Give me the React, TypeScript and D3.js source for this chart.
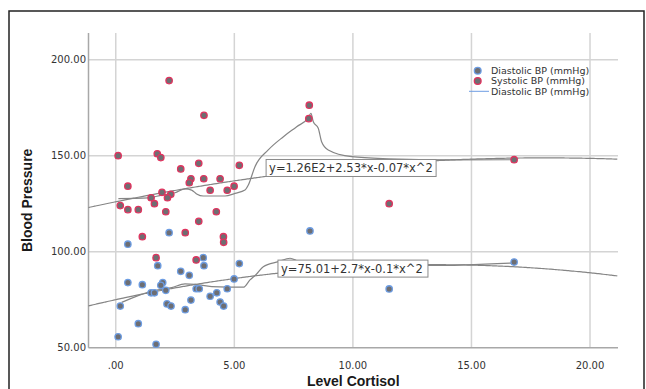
import * as d3 from "d3";
import React from "react";

// scatter values: [cortisol, blood pressure]
const systolic: [number, number][] = [
  [2.25, 189.1], [3.72, 171.0], [0.10, 150.0], [1.75, 151.0], [1.90, 149.0],
  [2.74, 143.1], [3.50, 146.0], [5.21, 145.0], [0.51, 134.1], [3.17, 138.0],
  [3.10, 135.9], [3.71, 138.0], [4.40, 138.0], [4.99, 134.1], [1.95, 130.9],
  [2.32, 129.9], [1.49, 128.1], [2.18, 128.1], [3.98, 132.0], [4.70, 132.0],
  [1.63, 125.0], [0.19, 124.0], [0.51, 121.9], [0.95, 121.9], [2.11, 120.8],
  [4.24, 120.8], [3.50, 115.8], [1.12, 107.8], [2.93, 109.9], [4.54, 107.8],
  [4.55, 104.9], [1.70, 96.9], [3.39, 95.7], [8.16, 176.3], [8.14, 169.3],
  [11.53, 125.0], [16.80, 147.9],
];

const diastolic: [number, number][] = [
  [2.25, 109.9], [0.51, 103.9], [3.69, 96.9], [1.77, 92.7], [3.72, 92.7],
  [5.21, 93.8], [2.74, 89.8], [3.10, 87.7], [0.51, 83.9], [1.12, 82.8],
  [1.98, 83.9], [1.90, 82.5], [4.99, 85.8], [3.39, 80.7], [3.52, 80.7],
  [1.49, 78.6], [1.63, 78.6], [2.11, 79.9], [4.70, 80.7], [4.26, 78.6],
  [3.98, 76.8], [3.17, 74.8], [4.40, 73.8], [0.19, 71.7], [2.16, 72.8],
  [2.33, 71.7], [2.93, 69.8], [4.55, 71.7], [0.95, 62.5], [0.10, 55.7],
  [1.70, 51.8], [8.19, 110.8], [11.53, 80.6], [16.80, 94.6],
];

// loess-like smoothers
const systolicLoess: [number, number][] = [
  [0.11, 127.6], [1.37, 128.0], [1.94, 129.5], [2.5, 130.7], [2.92, 132.7],
  [3.2, 132.1], [3.41, 130.1], [3.69, 129.0], [4.61, 129.0], [5.03, 130.4],
  [5.45, 132.1], [5.59, 134.7], [5.87, 144.3], [6.43, 153.0], [7.07, 159.9],
  [7.63, 165.1], [8.12, 169.8], [8.23, 172.1], [8.33, 167.7], [8.54, 164.3],
  [8.68, 157.3], [8.96, 153.0], [9.95, 149.5], [11.5, 148.4], [14.09, 147.8],
  [16.8, 147.9],
];

const diastolicLoess: [number, number][] = [
  [0.25, 73.6], [1.45, 79.2], [2.36, 81.3], [2.92, 83.2], [3.34, 83.0],
  [4.05, 81.8], [5.38, 81.5], [5.66, 85.3], [5.94, 88.4], [6.22, 92.2],
  [6.86, 94.8], [7.35, 96.6], [7.7, 95.0], [8.3, 94.0], [11.5, 93.0],
  [13.25, 92.8], [16.8, 94.2],
];

// quadratic fit coefficients as printed on the chart
const systolicCoef = [126, 2.53, -0.07];
const diastolicCoef = [75.01, 2.7, -0.1];
const systolicLabel = "y=1.26E2+2.53*x-0.07*x^2";
const diastolicLabel = "y=75.01+2.7*x-0.1*x^2";

const xTicks = [0, 5, 10, 15, 20];
const yTicks = [50, 100, 150, 200];
const legendItems = ["Diastolic BP (mmHg)", "Systolic BP (mmHg)", "Diastolic BP (mmHg)"];

const W = 646;
const H = 389;
const plot = { left: 88.5, right: 618, top: 33, bottom: 347.7 };

const BLUE = "#6d9de3";
const RED = "#e0335e";
const DOT = "#6e6e72";
const LINE = "#858585";
const GRID = "#d4d4d4";
const FONT = "DejaVu Sans, sans-serif";

export default function App() {
  const x = d3.scaleLinear().domain([-1.15, 21.18]).range([plot.left, plot.right]);
  const y = d3.scaleLinear().domain([50, 213.9]).range([plot.bottom, plot.top]);

  const line = d3
    .line<[number, number]>()
    .x((d) => x(d[0]))
    .y((d) => y(d[1]))
    .curve(d3.curveMonotoneX);

  const quad = (c: number[]) =>
    d3.range(-1.15, 21.2, 0.1).map((v) => [v, c[0] + c[1] * v + c[2] * v * v] as [number, number]);

  const fmt = (v: number) => (v === 0 ? ".00" : d3.format(".2f")(v));

  const eqBox = (label: string, bx: number, by: number, w: number) => (
    <g>
      <rect x={x(bx)} y={y(by) - 8.5} width={w} height={17} fill="#fff" stroke="#8a8a8a" strokeWidth={1} />
      <text x={x(bx) + 3} y={y(by) + 4} fontSize={11.5} fontFamily={FONT} fill="#333">
        {label}
      </text>
    </g>
  );

  return (
    <div style={{ position: "absolute", left: 0, top: 0 }}>
      <svg width={W} height={H} style={{ display: "block", background: "#fff" }}>
        <rect x={9} y={11} width={635} height={400} fill="none" stroke="#222" strokeWidth={1.5} />

        {/* grid */}
        {xTicks.map((t) => (
          <line key={"gx" + t} x1={x(t)} x2={x(t)} y1={plot.top} y2={plot.bottom} stroke={GRID} strokeWidth={1.5} />
        ))}
        {yTicks.filter((t) => t > 50).map((t) => (
          <line key={"gy" + t} x1={plot.left} x2={plot.right} y1={y(t)} y2={y(t)} stroke={GRID} strokeWidth={1.5} />
        ))}

        {/* axes */}
        <line x1={plot.left} x2={plot.left} y1={plot.top} y2={plot.bottom} stroke="#a8a8a8" strokeWidth={1.5} />
        <line x1={plot.left} x2={plot.right} y1={plot.bottom} y2={plot.bottom} stroke="#a8a8a8" strokeWidth={1.5} />

        {xTicks.map((t) => (
          <text key={"tx" + t} x={x(t)} y={369} textAnchor="middle" fontSize={10} fontFamily={FONT} fill="#333">
            {fmt(t)}
          </text>
        ))}
        {yTicks.map((t) => (
          <text key={"ty" + t} x={86} y={y(t) + 3.5} textAnchor="end" fontSize={10} fontFamily={FONT} fill="#333">
            {fmt(t)}
          </text>
        ))}

        <text x={(plot.left + plot.right) / 2} y={386} textAnchor="middle" fontSize={14} fontWeight="bold" fontFamily="Liberation Sans, sans-serif" fill="#1a1a1a">
          Level Cortisol
        </text>
        <text
          transform={`translate(32,${(plot.top + plot.bottom) / 2 + 10}) rotate(-90)`}
          textAnchor="middle"
          fontSize={14}
          fontWeight="bold"
          fontFamily="Liberation Sans, sans-serif"
          fill="#1a1a1a"
        >
          Blood Pressure
        </text>

        {/* fit lines */}
        <path d={line(quad(systolicCoef)) || ""} fill="none" stroke={LINE} strokeWidth={1.2} />
        <path d={line(quad(diastolicCoef)) || ""} fill="none" stroke={LINE} strokeWidth={1.2} />
        <path d={line(systolicLoess) || ""} fill="none" stroke={LINE} strokeWidth={1.2} />
        <path d={line(diastolicLoess) || ""} fill="none" stroke={LINE} strokeWidth={1.2} />

        {/* points */}
        {diastolic.map((d, i) => (
          <circle key={"d" + i} cx={x(d[0])} cy={y(d[1])} r={3.2} fill={DOT} stroke={BLUE} strokeWidth={1.3} />
        ))}
        {systolic.map((d, i) => (
          <circle key={"s" + i} cx={x(d[0])} cy={y(d[1])} r={3.2} fill={DOT} stroke={RED} strokeWidth={1.3} />
        ))}

        {eqBox(systolicLabel, 6.34, 143.6, 170)}
        {eqBox(diastolicLabel, 6.84, 91.2, 150)}

        {/* legend */}
        <g fontFamily={FONT} fontSize={9.5} fill="#333">
          <circle cx={477.7} cy={70.7} r={3.4} fill={DOT} stroke={BLUE} strokeWidth={1.3} />
          <circle cx={477.7} cy={81} r={3.4} fill={DOT} stroke={RED} strokeWidth={1.3} />
          <line x1={469} x2={489} y1={91.3} y2={91.3} stroke={BLUE} strokeWidth={1} />
          {legendItems.map((s, i) => (
            <text key={"l" + i} x={491} y={74 + i * 10.4}>
              {s}
            </text>
          ))}
        </g>
      </svg>
    </div>
  );
}
